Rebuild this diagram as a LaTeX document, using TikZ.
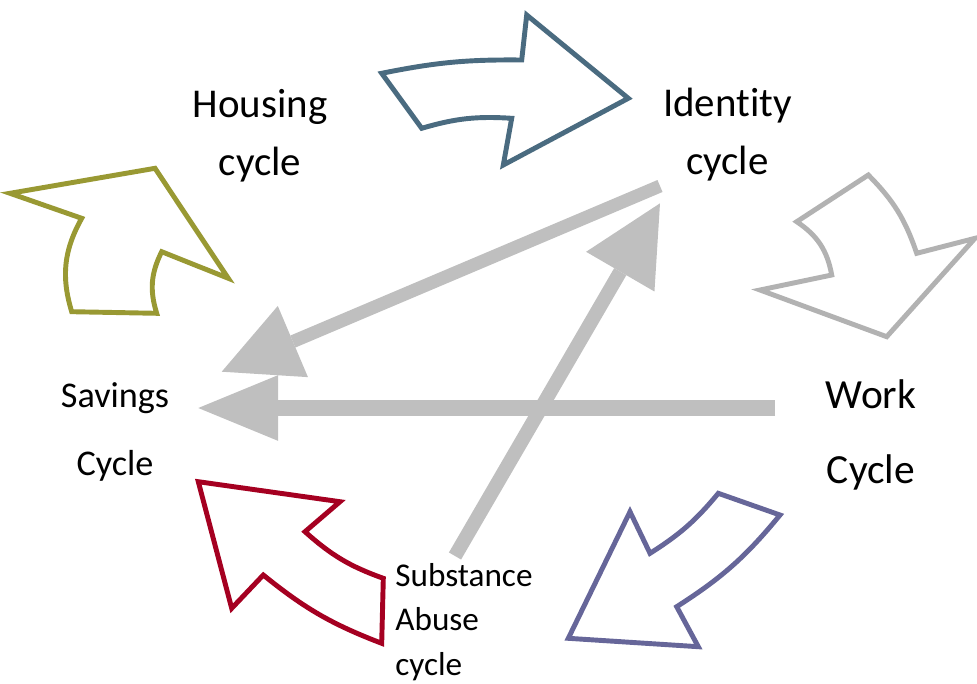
\documentclass[tikz,border=0pt]{standalone}
\usepackage{fontspec}
\setmainfont{Carlito}[Ligatures={NoCommon}]
\usetikzlibrary{arrows.meta}
\definecolor{tealc}{RGB}{74,107,128}
\definecolor{olivec}{RGB}{153,153,51}
\definecolor{greyc}{RGB}{178,178,178}
\definecolor{redc}{RGB}{165,0,33}
\definecolor{purplec}{RGB}{102,102,153}
\definecolor{thickgrey}{RGB}{191,191,191}
\tikzset{
  outlinearrow/.style={line width=2.8pt, line join=miter, fill=white},
  biglabel/.style={inner sep=0pt, anchor=base, align=center, font=\fontsize{23.3}{33}\selectfont},
  thickconn/.style={draw=thickgrey, line cap=butt},
}
\begin{document}
\begin{tikzpicture}[x=0.02cm, y=-0.02cm]
\useasboundingbox (0,0) rectangle (977,683);

% decorative outline arrows
\draw[outlinearrow, draw=tealc] (381.7,73.3) to[bend left=6] (521.7,60) -- (526.7,15) -- (628.3,98.3) -- (503.3,165) -- (511.7,118.3) to[bend right=10] (421.7,128.3) -- cycle;
\draw[outlinearrow, draw=olivec] (71.7,311.7) to[bend left=23] (81.7,218.3) -- (10,193.3) -- (155,168.3) -- (228.3,278.3) -- (161.7,251.7) to[bend right=22] (156.7,313.3) -- cycle;
\draw[outlinearrow, draw=greyc] (868.3,175) -- (796.7,221.7) to[bend left=23] (831.7,275) -- (760,290) -- (886.7,336.7) -- (975,238.3) -- (916.7,253.3) to[bend right=13] (868.3,175) -- cycle;
\draw[outlinearrow, draw=redc] (198.3,481.7) -- (340,501.7) -- (305,531.7) to[bend right=11] (383.3,578.3) -- (381.7,643.3) to[bend left=9] (263.3,575) -- (231.7,608.3) -- cycle;
\draw[outlinearrow, draw=purplec] (718.3,493.3) -- (780,515) to[bend left=9] (676.7,606.7) -- (698.3,646.7) -- (568.3,638.3) -- (630,511.7) -- (650,553.3) to[bend right=9] (718.3,493.3) -- cycle;

% labels (anchor = baseline of last line)
\node[biglabel] (housing) at (260,175) {Housing\\cycle};
\node[biglabel] (identity) at (727.5,174) {Identity\\cycle};
\node[inner sep=0pt, anchor=base, align=center, font=\fontsize{20.6}{38.5}\selectfont] (savings) at (115,475) {Savings\\Cycle};
\node[inner sep=0pt, anchor=base, align=center, font=\fontsize{23.6}{42.5}\selectfont] (work) at (871,483.3) {Work\\Cycle};
\node[inner sep=0pt, anchor=base west, align=left, font=\fontsize{18.9}{25.2}\selectfont] (substance) at (395,675) {Substance\\Abuse\\cycle};

% connector end points
\coordinate (idStart) at (660,186);
\coordinate (savEndA) at (221.7,371.7);
\coordinate (workStart) at (775,408);
\coordinate (savEndB) at (198.3,408);
\coordinate (subStart) at (455,556);
\coordinate (idEnd) at (660,203.3);

% thick grey connectors
\draw[thickconn, line width=7.4pt, -{Triangle[length=44pt,width=44pt,line width=0pt]}] (idStart) -- (savEndA);
\draw[thickconn, line width=9.4pt, -{Triangle[length=45.4pt,width=37.4pt,line width=0pt]}] (workStart) -- (savEndB);
\draw[thickconn, line width=8pt, -{Triangle[length=45pt,width=45pt,line width=0pt]}] (subStart) -- (idEnd);
\end{tikzpicture}
\end{document}
